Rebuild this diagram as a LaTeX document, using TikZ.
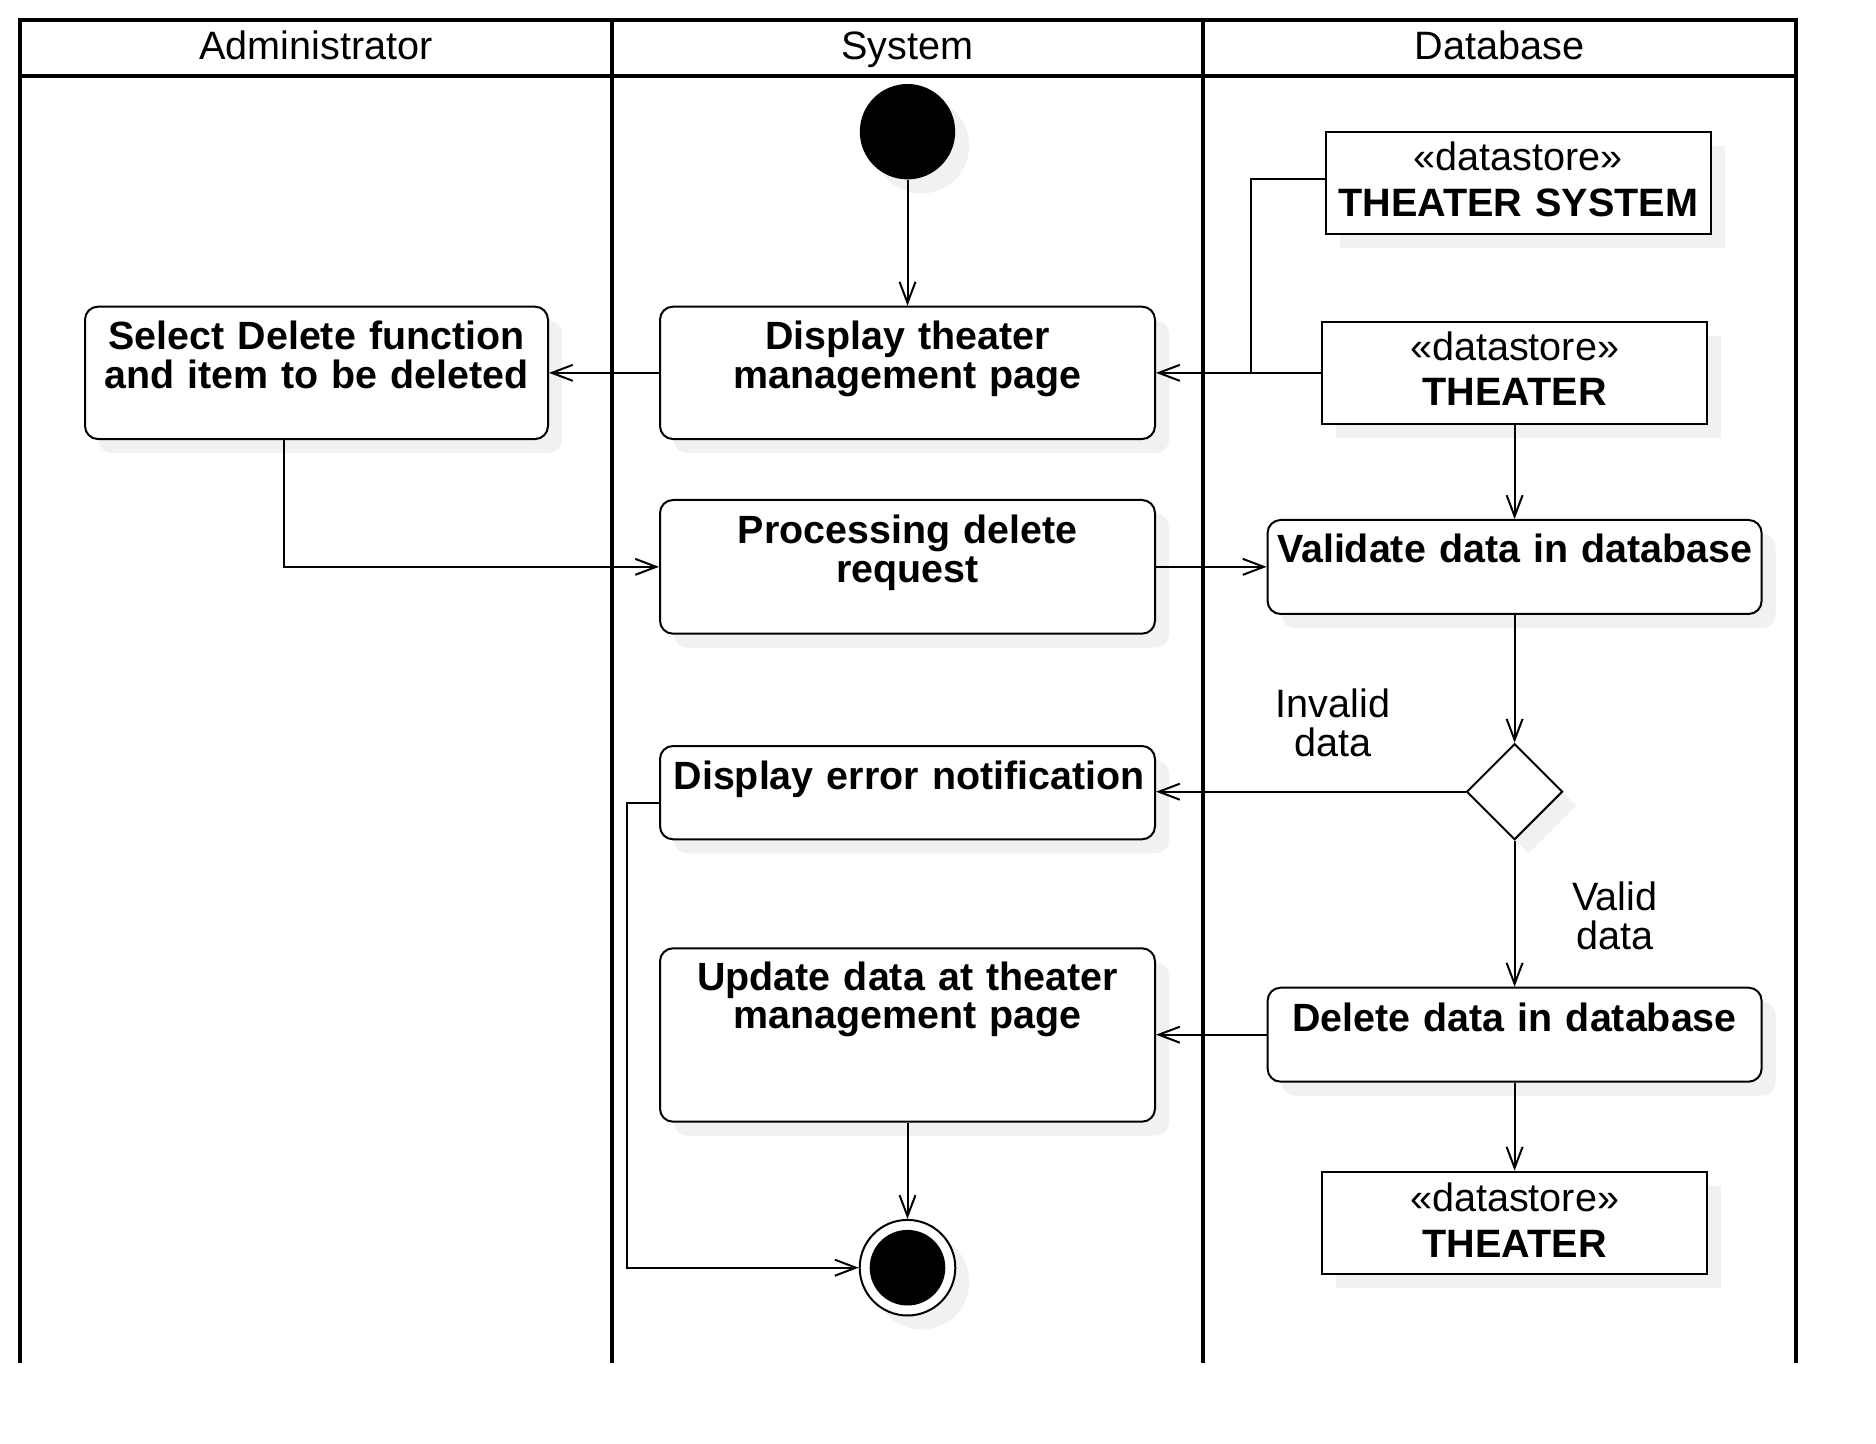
\documentclass[tikz,border=0pt]{standalone}
\usepackage{fontspec}
\setmainfont{Liberation Sans}
\usetikzlibrary{arrows.meta,shapes.geometric,shadows,calc}
\definecolor{shadowc}{RGB}{241,241,241}
\begin{document}
\begin{tikzpicture}[x=0.5pt,y=-0.5pt,
  sh/.style={drop shadow={shadow xshift=7pt,shadow yshift=-7pt,fill=shadowc,opacity=1}},
  act/.style={draw,line width=1pt,rounded corners=6.5pt,fill=white,inner sep=0pt,sh},
  store/.style={draw,line width=1pt,fill=white,inner sep=0pt,sh},
  conn/.style={line width=1pt,-{Straight Barb[length=10.5pt,width=8pt]}},
  plain/.style={line width=1pt},
  lane/.style={line width=1.65pt},
  htxt/.style={font=\fontsize{19.8pt}{19.5pt}\selectfont,anchor=base,inner sep=0pt},
  btxt/.style={font=\fontsize{19.7pt}{19.25pt}\selectfont\bfseries,text width=320pt,align=center,anchor=base,inner sep=0pt},
  stxt/.style={font=\fontsize{19.8pt}{22.7pt}\selectfont,text width=320pt,align=center,anchor=base,inner sep=0pt},
  ltxt/.style={font=\fontsize{19.8pt}{19.5pt}\selectfont,text width=120pt,align=center,anchor=base,inner sep=0pt}
]
\useasboundingbox[fill=white] (0,0) rectangle (1876,1444);

% pool and lanes
\draw[lane] (20,1363) -- (20,20) -- (1796,20) -- (1796,1363);
\draw[lane] (20,76) -- (1796,76);
\draw[lane] (612,20) -- (612,1363);
\draw[lane] (1203,20) -- (1203,1363);
\node[htxt] (h1) at (316,59.3) {Administrator};
\node[htxt] (h2) at (907.5,59.3) {System};
\node[htxt] (h3) at (1499.5,59.3) {Database};

% activity nodes
\node[act,minimum width=231.5pt,minimum height=66.2pt] (sel) at (316.5,372.85) {};
\node[act,minimum width=247.5pt,minimum height=66.2pt] (disp) at (907.5,372.85) {};
\node[act,minimum width=247.5pt,minimum height=66.85pt] (proc) at (907.5,566.85) {};
\node[act,minimum width=247.5pt,minimum height=46.65pt] (err) at (907.5,792.65) {};
\node[act,minimum width=247.5pt,minimum height=86.7pt] (upd) at (907.5,1035) {};
\node[act,minimum width=247pt,minimum height=47pt] (val) at (1514.6,567) {};
\node[act,minimum width=247pt,minimum height=47pt] (del) at (1514.6,1034.7) {};
\node[diamond,draw,line width=1pt,fill=white,inner sep=0pt,minimum width=48pt,minimum height=48pt,sh] (dec) at (1514.6,791.7) {};
\node[store,minimum width=192.65pt,minimum height=51pt] (tsys) at (1518.35,182.7) {};
\node[store,minimum width=192.8pt,minimum height=50.85pt] (th1) at (1514.6,372.85) {};
\node[store,minimum width=192.8pt,minimum height=51.15pt] (th2) at (1514.6,1222.85) {};
\node[circle,fill=black,inner sep=0pt,minimum size=47.7pt,sh] (start) at (907.5,131.7) {};
\node[circle,draw,line width=1pt,fill=white,inner sep=0pt,minimum size=47.8pt,sh] (end) at (907.5,1267.7) {};
\node[circle,fill=black,inner sep=0pt,minimum size=37.8pt] (endin) at (end.center) {};

% texts
\node[btxt] (tsel) at (316.5,350) {Select Delete function\\and item to be deleted};
\node[btxt] (tdisp) at (907.5,350) {Display theater\\management page};
\node[btxt] (tproc) at (907.5,544) {Processing delete\\request};
\node[btxt] (tval) at (1514.6,563) {Validate data in database};
\node[btxt] (terr) at (909,790) {Display error notification};
\node[btxt] (tupd) at (907.5,990) {Update data at theater\\management page};
\node[btxt] (tdel) at (1514.6,1031.7) {Delete data in database};
\node[stxt] (ttsys) at (1518.35,171) {«datastore»\\\textbf{THEATER SYSTEM}};
\node[stxt] (tth1) at (1514.6,360.5) {«datastore»\\\textbf{THEATER}};
\node[stxt] (tth2) at (1514.6,1211.7) {«datastore»\\\textbf{THEATER}};
\node[ltxt] (linv) at (1333,717.7) {Invalid\\data};
\node[ltxt] (lval) at (1615,910) {Valid\\data};

% connectors
\draw[conn] (start.south) -- (disp.north);
\draw[conn] (disp.west) -- (disp.west -| sel.east);
\draw[conn] (th1.west) -- (th1.west -| disp.east);
\coordinate (jn) at ([xshift=-35pt]th1.west);
\coordinate (tsout) at ([yshift=1.7pt]tsys.west);
\draw[plain] (tsout) -| (jn);
\draw[conn] (th1.south) -- (val.north);
\coordinate (selout) at ([xshift=-16.25pt]sel.south);
\draw[conn] (selout) |- (proc.west);
\draw[conn] (proc.east) -- (proc.east -| val.west);
\draw[conn] (val.south) -- (dec.north);
\draw[conn] (dec.west) -- (dec.west -| err.east);
\draw[conn] (dec.south) -- (del.north);
\draw[conn] (del.west) -- (del.west -| upd.east);
\draw[conn] (del.south) -- (th2.north);
\draw[conn] (upd.south) -- (end.north);
\coordinate (errout) at ([yshift=-5.3pt]err.west);
\coordinate (bend) at ([xshift=-16.15pt]errout);
\draw[conn] (errout) -- (bend) |- (end.west);
\end{tikzpicture}
\end{document}
